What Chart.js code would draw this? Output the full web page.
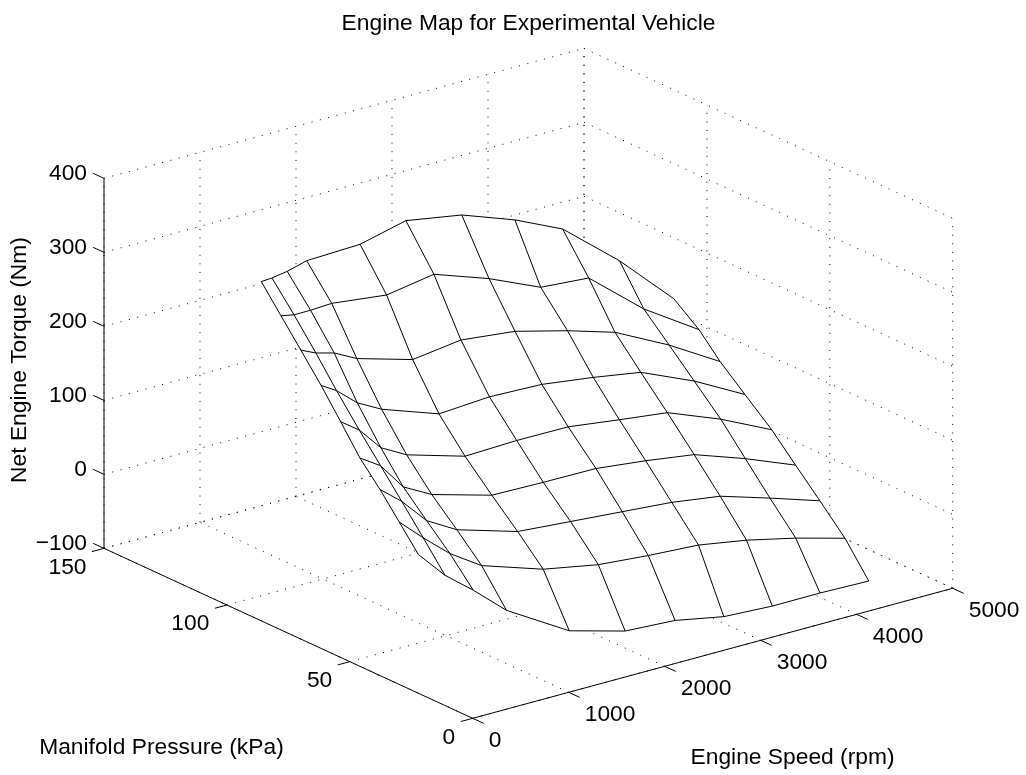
<!DOCTYPE html>
<html>
<head>
<meta charset="utf-8">
<title>Engine Map for Experimental Vehicle</title>
<script src="https://cdn.jsdelivr.net/npm/chart.js@4/dist/chart.umd.js"></script>
<style>
html,body{margin:0;padding:0;background:#fff;}
canvas{display:block;}
</style>
</head>
<body>
<canvas id="engineChart" width="1026" height="775"></canvas>
<script>
const titleText = "Engine Map for Experimental Vehicle";
const speedLabel = "Engine Speed (rpm)";
const pressureLabel = "Manifold Pressure (kPa)";
const torqueLabel = "Net Engine Torque (Nm)";

const speedTicks = [0, 1000, 2000, 3000, 4000, 5000];
const pressureTicks = [0, 50, 100, 150];
const torqueTicks = [-100, 0, 100, 200, 300, 400];

// one entry per mesh column
const engineSpeed = [100, 400, 700, 1000, 1500, 2000, 2500, 3000, 3500, 4000, 4500];

// rows run from the highest manifold pressure down to the lowest
const pressure = [
  [89.9, 97.3, 102.8, 106.6, 104.4, 105.3, 102.1, 100.0, 100.1, 96.5, 93.9],
  [81.9, 88.3, 93.3, 96.4, 93.6, 93.9, 91.0, 89.5, 89.5, 86.6, 83.7],
  [73.8, 79.4, 83.7, 86.2, 83.0, 82.9, 80.4, 78.6, 78.8, 76.3, 75.1],
  [65.6, 71.0, 74.3, 76.1, 72.3, 71.3, 69.5, 68.1, 68.3, 66.1, 65.0],
  [57.6, 61.8, 64.7, 65.9, 61.7, 60.2, 58.8, 57.5, 57.5, 55.3, 54.1],
  [49.8, 53.1, 55.6, 55.7, 50.8, 49.4, 47.5, 46.8, 46.6, 45.3, 44.4],
  [41.6, 44.5, 46.1, 45.5, 40.3, 38.3, 36.8, 36.2, 36.0, 35.3, 34.5],
  [33.8, 35.7, 36.6, 35.4, 29.9, 27.0, 26.2, 25.3, 25.3, 24.8, 24.3],
  [26.0, 26.9, 27.1, 25.3, 19.3, 16.1, 15.3, 15.0, 14.8, 14.9, 14.6]
];

const torque = [
  [349, 332, 322, 320, 328, 341, 336, 315, 285, 230, 165],
  [315, 296, 284, 278, 276, 286, 267, 240, 235, 180, 139],
  [281, 258, 241, 219, 205, 214, 212, 198, 178, 147, 109],
  [246, 220, 188, 166, 148, 155, 157, 151, 140, 114, 80],
  [209, 181, 142, 120, 107, 113, 116, 110, 102, 79, 49],
  [172, 146, 103, 82, 71, 73, 77, 71, 62, 41, 16],
  [142, 111, 72, 50, 38, 37, 35, 31, 22, 3, -17],
  [110, 75, 42, 17, 3, -4, -8, -10, -21, -35, -52],
  [78, 38, 7, -28, -64, -77, -79, -91, -94, -94, -95]
];

const speedMax = 5000;
const pressureMax = 150;
const torqueMin = -100;
const torqueMax = 400;

// fixed 3D view, turns data values into positions on the x and y scales
function project(s, p, t){
    return {
        x: 472.7 + s * 0.096 - p * 2.458,
        y: 718.3 - s * 0.026 - p * 1.133 - (t - torqueMin) * 0.74
    };
}

function lineSet(points, dash){
    return {
        data: points,
        showLine: true,
        borderColor: "#000",
        borderWidth: 1,
        borderDash: dash || [],
        pointRadius: 0,
        tension: 0,
        fill: false
    };
}

const meshSets = [];
pressure.forEach((row, j) => {
    meshSets.push(lineSet(row.map((p, i) => project(engineSpeed[i], p, torque[j][i]))));
});
engineSpeed.forEach((s, i) => {
    meshSets.push(lineSet(pressure.map((row, j) => project(s, row[i], torque[j][i]))));
});

const gridDash = [1, 7.6];
const frameSets = [];
torqueTicks.forEach(t => {
    frameSets.push(lineSet([project(0, pressureMax, t), project(speedMax, pressureMax, t)], gridDash));
    frameSets.push(lineSet([project(speedMax, pressureMax, t), project(speedMax, 0, t)], gridDash));
    frameSets.push(lineSet([project(0, pressureMax, t), project(0, pressureMax + 4.4, t)]));
});
speedTicks.forEach(s => {
    frameSets.push(lineSet([project(s, 0, torqueMin), project(s, pressureMax, torqueMin)], gridDash));
    frameSets.push(lineSet([project(s, pressureMax, torqueMin), project(s, pressureMax, torqueMax)], gridDash));
    frameSets.push(lineSet([project(s, 0, torqueMin), project(s, -4.5, torqueMin)]));
});
pressureTicks.forEach(p => {
    frameSets.push(lineSet([project(0, p, torqueMin), project(speedMax, p, torqueMin)], gridDash));
    frameSets.push(lineSet([project(speedMax, p, torqueMin), project(speedMax, p, torqueMax)], gridDash));
    frameSets.push(lineSet([project(0, p, torqueMin), project(-125, p, torqueMin)]));
});
frameSets.push(lineSet([project(0, pressureMax, torqueMin), project(0, pressureMax, torqueMax)]));
frameSets.push(lineSet([project(0, 0, torqueMin), project(speedMax, 0, torqueMin)]));
frameSets.push(lineSet([project(0, 0, torqueMin), project(0, pressureMax, torqueMin)]));

// white patches so the surface hides the dotted grid behind it
const surfacePatches = {
    id: "surfacePatches",
    beforeDatasetDraw(chart, args){
        if(args.index !== meshSets.length - 1) return;
        const ctx = chart.ctx;
        const xs = chart.scales.x, ys = chart.scales.y;
        ctx.save();
        ctx.fillStyle = "#fff";
        for(let j = 0; j < pressure.length - 1; j++){
            for(let i = 0; i < engineSpeed.length - 1; i++){
                const corners = [[j, i], [j, i + 1], [j + 1, i + 1], [j + 1, i]];
                ctx.beginPath();
                corners.forEach(([r, c]) => {
                    const pt = project(engineSpeed[c], pressure[r][c], torque[r][c]);
                    ctx.lineTo(xs.getPixelForValue(pt.x), ys.getPixelForValue(pt.y));
                });
                ctx.closePath();
                ctx.fill();
            }
        }
        ctx.restore();
    }
};

const axisText = {
    id: "axisText",
    afterDraw(chart){
        const ctx = chart.ctx;
        ctx.save();
        ctx.fillStyle = "#000";
        ctx.font = '22.8px "Liberation Sans"';
        ctx.textBaseline = "middle";

        ctx.textAlign = "right";
        torqueTicks.forEach(t => {
            const pt = project(0, pressureMax, t);
            ctx.fillText(String(t).replace("-", "\u2212"), pt.x - 17, pt.y - 4.7);
        });
        pressureTicks.forEach(p => {
            const pt = project(0, p, torqueMin);
            ctx.fillText(String(p), pt.x - 17.5, pt.y + 19);
        });

        ctx.textAlign = "left";
        speedTicks.forEach(s => {
            const pt = project(s, 0, torqueMin);
            ctx.fillText(String(s), pt.x + 16, pt.y + 22);
        });
        ctx.fillText(pressureLabel, 39.2, 747.7);
        ctx.fillText(speedLabel, 690.5, 758.2);

        ctx.textAlign = "center";
        ctx.fillText(titleText, 528.5, 23.3);
        ctx.translate(20, 360);
        ctx.rotate(-Math.PI / 2);
        ctx.fillText(torqueLabel, 0, 0);
        ctx.restore();
    }
};

new Chart(document.getElementById("engineChart"), {
    type: "scatter",
    data: { datasets: meshSets.concat(frameSets) },
    options: {
        responsive: false,
        animation: false,
        layout: { padding: 0 },
        plugins: { legend: { display: false }, tooltip: { enabled: false } },
        scales: {
            x: { type: "linear", min: 0, max: 1026, display: false },
            y: { type: "linear", min: 0, max: 775, reverse: true, display: false }
        }
    },
    plugins: [surfacePatches, axisText]
});
</script>
</body>
</html>
